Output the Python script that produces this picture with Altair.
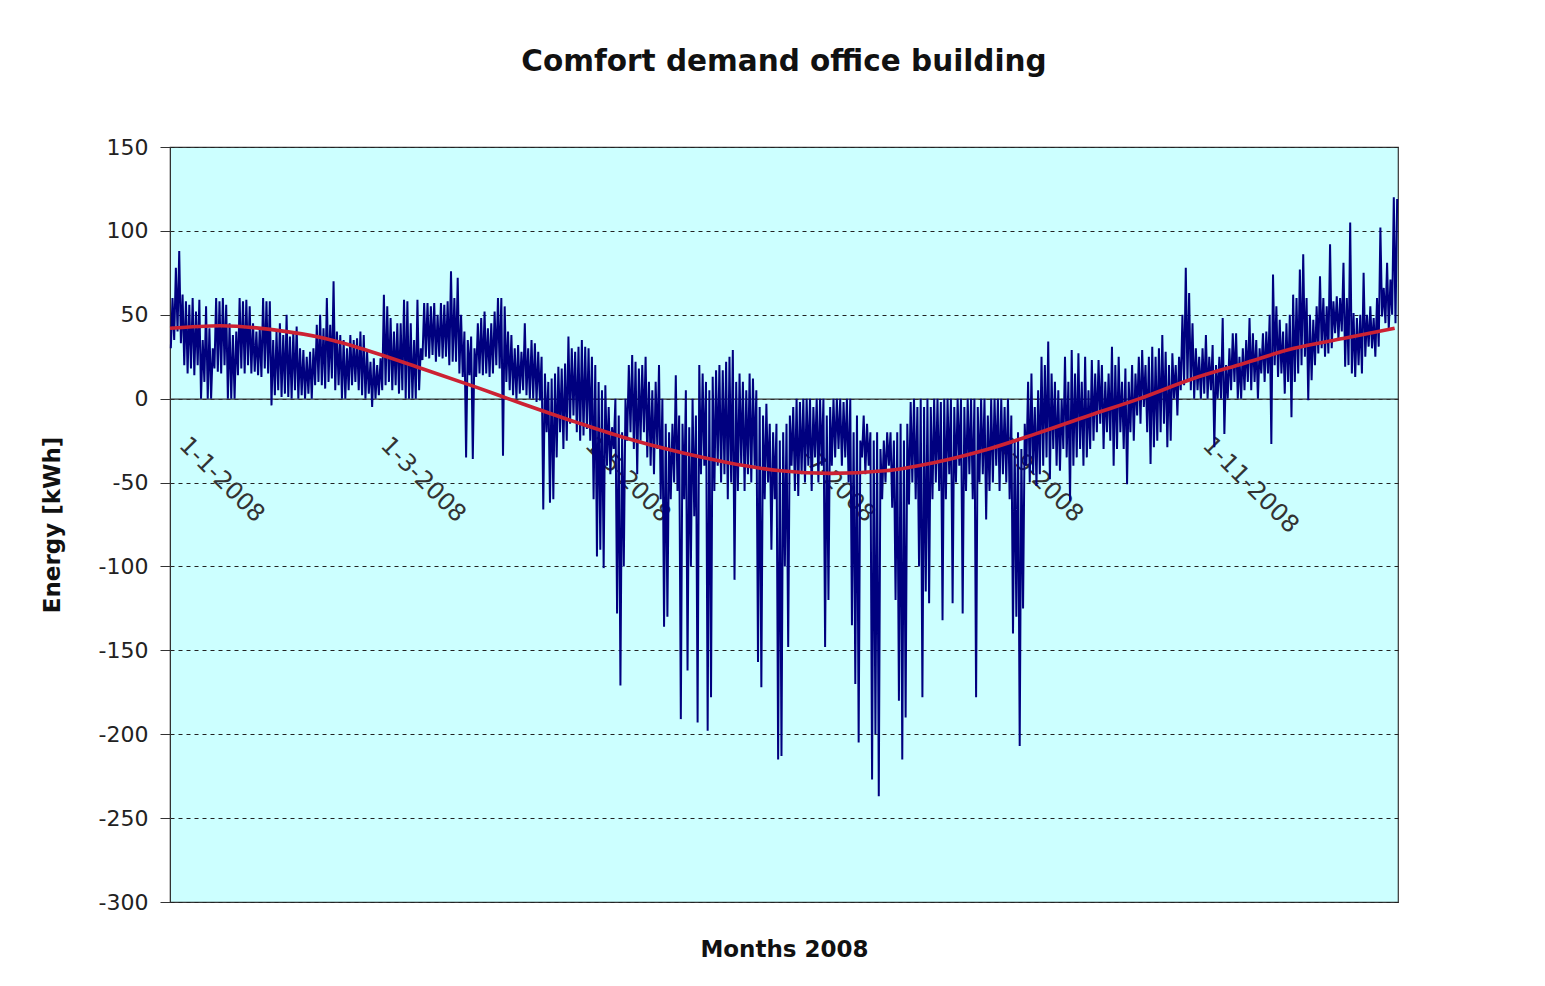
import altair as alt
import pandas as pd

# Daily low / high of the comfort demand (kWh)
lo_jan = [30,35,40,33,20,15,18,14,20,0,10,0,0,18,16,15,20,0,0,0,14,18,15,20,15,16,14,13,18,15,-4]
hi_jan = [60,78,88,62,58,56,60,52,59,35,55,42,30,60,58,60,56,45,38,40,60,58,59,55,45,40,42,60,58,58,35]
lo_feb = [2,5,1,3,1,0,5,0,2,0,3,0,8,10,8,6,10,12,5,8,0,0,5,8,10,5,2,0,3]
hi_feb = [40,45,38,50,37,40,43,30,29,25,28,30,44,50,42,60,44,70,40,38,35,30,38,35,36,40,38,28,22]
lo_mar = [-5,0,2,5,8,10,5,8,3,5,0,0,0,0,5,23,25,24,26,22,25,24,25,20,22,22,15,13,-35,14,-36]
hi_mar = [24,20,24,62,55,48,40,45,45,59,58,45,35,59,30,57,57,55,57,50,57,56,58,76,60,72,50,40,35,37,30]
lo_apr = [13,15,14,15,13,15,20,18,-34,10,5,2,0,3,5,2,0,0,-2,-1,-66,-20,-62,-60,-35,-20,-30,-25,-15,-10]
hi_apr = [45,48,52,42,45,52,60,60,55,40,38,30,32,28,45,30,35,33,28,25,15,10,12,15,19,18,21,37,30,28]
lo_may = [-20,-25,-22,-18,-25,-60,-94,-90,-101,-40,-45,-30,-128,-171,-100,-25,-20,-30,-45,-25,-20,-35,-40,-45,-30,-60,-136,-130,-60,-50,-55]
hi_may = [31,35,31,30,25,20,10,5,8,-5,-17,0,-10,-20,0,20,26,22,18,20,25,10,5,10,20,0,-15,-20,-15,14,-10]
lo_jun = [-191,-60,-162,-100,-70,-193,-45,-40,-198,-178,-55,-40,-50,-45,-60,-50,-108,-55,-40,-55,-45,-50,-40,-157,-172,-60,-50,-90,-60,-215]
hi_jun = [-15,5,-17,0,-10,20,15,10,5,13,17,20,17,22,25,29,10,15,10,5,15,12,5,-5,-10,-3,-15,-20,-15,-25]
lo_jul = [-213,-100,-148,-40,-55,-58,-45,-50,-40,-55,-35,-50,-40,-148,-120,-40,-35,-30,-40,-35,-50,-135,-170,-205,-35,-45,-40,-227,-200,-237,-60]
hi_jul = [-20,-15,-10,-5,0,-2,0,0,0,-5,0,0,0,-10,-5,0,0,0,-2,0,0,-20,-10,-25,-10,-15,-20,-25,-20,-30,-25]
lo_aug = [-50,-40,-65,-120,-180,-215,-190,-63,-50,-60,-100,-178,-115,-122,-60,-50,-55,-132,-60,-45,-122,-50,-40,-128,-55,-45,-60,-178,-50,-45,-72]
hi_aug = [-20,-20,-25,-20,-15,-25,-15,-2,0,-5,0,-5,0,-5,0,0,-2,0,0,0,-5,0,0,-5,0,0,0,-5,0,0,-10]
lo_sep = [-55,-50,-40,-55,-45,-50,-60,-140,-130,-207,-125,-40,-50,-45,-52,-45,-40,-35,-48,-30,-40,-43,-30,-35,-61,-40,-35,-30,-40,-35]
hi_sep = [0,0,0,0,-5,0,-10,-25,-20,-30,-15,10,15,-5,5,25,20,34,15,10,5,0,25,10,29,15,27,10,25,5]
lo_oct = [-30,-25,-20,-15,-30,-20,-25,-40,-30,-20,-30,-51,-20,-25,-10,-15,-5,-20,-39,-29,-25,-20,-15,-29,-25,0,-10,5,8,10,5]
hi_oct = [23,15,23,20,10,15,31,20,25,10,18,10,20,15,25,29,20,25,31,25,30,38,28,20,27,20,25,50,78,63,45]
lo_nov = [0,5,0,3,0,5,-29,0,0,-21,0,5,10,0,0,5,10,5,10,0,15,10,15,-27,20,13,15,3,10,-11]
hi_nov = [30,25,30,38,25,32,20,25,48,20,30,39,39,25,30,35,48,39,35,30,39,40,50,74,55,47,40,45,50,62]
lo_dec = [10,15,20,25,-1,11,20,27,30,25,27,30,39,35,40,19,20,15,13,20,15,25,31,30,25,31,49,45,41,50,45]
hi_dec = [60,77,86,60,50,47,55,73,60,55,92,58,61,60,81,60,105,51,48,50,75,50,55,48,60,102,66,81,71,120,119]

# Trend line (red), day-of-year and value
trend_day = [0,15,31,46,60,75,91,105,121,135,152,166,182,197,213,228,244,258,274,289,305,320,335,350,365]
trend_val = [42,43.5,41,36,28,18,7,-3,-14,-23,-32,-38,-43,-44.5,-43,-38,-30,-21,-10,0,12,21,30,36,42]

tick_months = [1, 3, 5, 7, 9, 11]

lo = lo_jan + lo_feb + lo_mar + lo_apr + lo_may + lo_jun + lo_jul + lo_aug + lo_sep + lo_oct + lo_nov + lo_dec
hi = hi_jan + hi_feb + hi_mar + hi_apr + hi_may + hi_jun + hi_jul + hi_aug + hi_sep + hi_oct + hi_nov + hi_dec

start = pd.Timestamp("2008-01-01")
rows = []
for d in range(len(lo)):
    day = start + pd.Timedelta(days=d)
    rows.append({"t": day + pd.Timedelta(hours=6), "v": lo[d]})
    rows.append({"t": day + pd.Timedelta(hours=18), "v": hi[d]})
df = pd.DataFrame(rows)

trend = pd.DataFrame({
    "t": [start + pd.Timedelta(days=d) for d in trend_day],
    "v": trend_val,
})

H = 755
zero_offset = -(H - H * 150 / 450)

xscale = alt.Scale(domain=[alt.DateTime(year=2008, month=1, date=1),
                           alt.DateTime(year=2009, month=1, date=1)])
yscale = alt.Scale(domain=[-300, 150], nice=False)

xaxis = alt.Axis(
    values=[alt.DateTime(year=2008, month=m, date=1) for m in tick_months],
    format="%-d-%-m-%Y",
    labelAngle=45, labelAlign="left", labelBaseline="top",
    labelFont="DejaVu Sans", labelFontSize=24, labelColor="#333333",
    labelPadding=34, labelOffset=21,
    offset=zero_offset, domainColor="#333333", domainWidth=1.2,
    ticks=False, grid=False,
    title="Months 2008", titleFont="DejaVu Sans", titleFontSize=23,
    titleFontWeight="bold", titleColor="#111111",
    titleY=551, titleBaseline="middle",
)
yaxis = alt.Axis(
    values=list(range(-300, 151, 50)),
    labelExpr="'' + datum.value",
    labelFont="DejaVu Sans", labelFontSize=22, labelColor="#222222",
    labelPadding=12, tickSize=10, tickColor="#333333", domainColor="#333333",
    grid=True, gridColor="#222222", gridDash=[4, 4], gridWidth=1,
    title="Energy [kWh]", titleFont="DejaVu Sans", titleFontSize=23,
    titleFontWeight="bold", titleColor="#111111",
    titleX=-118, titleBaseline="middle",
)

demand = alt.Chart(df).mark_line(color="#00007F", strokeWidth=2).encode(
    x=alt.X("t:T", scale=xscale, axis=xaxis),
    y=alt.Y("v:Q", scale=yscale, axis=yaxis),
)

trendline = alt.Chart(trend).mark_line(color="#CC2233", strokeWidth=3.6, interpolate="monotone").encode(
    x=alt.X("t:T", scale=xscale),
    y=alt.Y("v:Q", scale=yscale),
)

chart = alt.layer(demand, trendline).properties(
    width=1228, height=H,
    autosize="none",
    padding={"left": 162, "top": 139, "right": 139, "bottom": 76},
    title=alt.TitleParams(
        "Comfort demand office building",
        font="DejaVu Sans", fontSize=29.5, fontWeight="bold", color="#111111",
        anchor="middle", frame="group", offset=36, baseline="alphabetic",
    ),
).configure_view(fill="#CCFFFF", stroke="#333333", strokeWidth=1.2)

chart.save("out.html", embed_options={"renderer": "svg", "actions": False})
